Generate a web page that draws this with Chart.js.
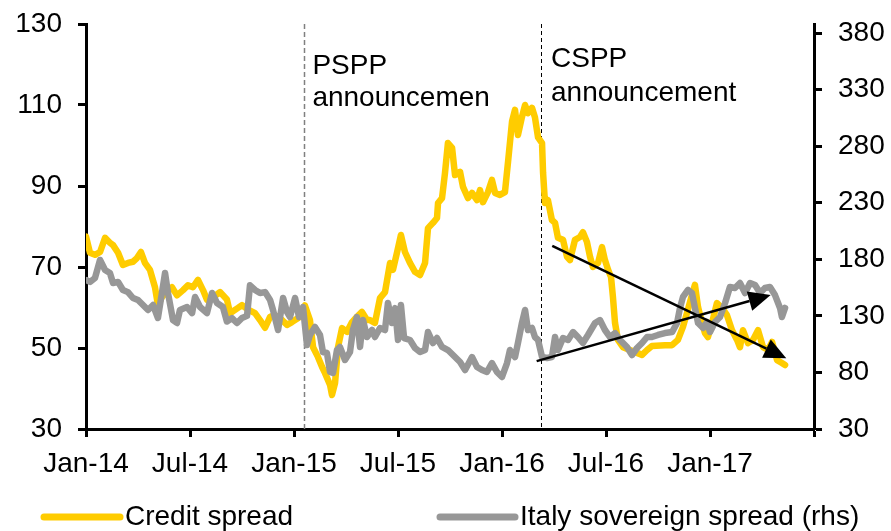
<!DOCTYPE html>
<html>
<head>
<meta charset="utf-8">
<title>Credit spread vs Italy sovereign spread</title>
<script src="https://cdn.jsdelivr.net/npm/chart.js@4/dist/chart.umd.min.js"></script>
<style>
  body{margin:0;background:#fff;}
  canvas{display:block;}
</style>
</head>
<body>
<canvas id="chart" width="891" height="531"></canvas>
<script>
// x values are months since Jan-2014
const xTickLabels = ['Jan-14','Jul-14','Jan-15','Jul-15','Jan-16','Jul-16','Jan-17',''];
const leftTicks = [30,50,70,90,110,130];
const rightTicks = [30,80,130,180,230,280,330,380];

const creditMonths = [0,0.23,0.52,0.81,1.1,1.38,1.56,1.85,2.13,2.42,2.71,2.94,3.17,3.4,3.69,3.98,4.15,4.38,4.96,5.25,5.6,5.88,6.17,6.46,6.75,6.98,7.27,7.73,8.13,8.31,8.77,9,9.35,9.75,10.04,10.33,10.62,10.9,11.31,11.6,11.88,12.35,12.63,12.92,13.1,13.38,13.62,13.79,14.08,14.19,14.37,14.54,14.77,15.06,15.35,15.63,15.92,16.21,16.38,16.67,16.96,17.25,17.54,17.71,17.94,18.17,18.4,18.69,18.98,19.27,19.56,19.73,20.02,20.25,20.31,20.54,20.71,20.88,21.12,21.29,21.58,21.75,22.04,22.27,22.56,22.73,22.9,23.19,23.42,23.6,23.88,24.17,24.35,24.58,24.75,24.92,25.15,25.33,25.5,25.73,25.9,26.08,26.31,26.37,26.48,26.65,26.88,27.06,27.23,27.52,27.75,27.92,28.21,28.5,28.67,28.9,29.08,29.25,29.54,29.77,29.94,30.12,30.29,30.4,30.52,30.69,30.98,31.38,31.79,32.08,32.37,32.65,33.4,33.81,34.15,34.44,34.67,34.96,35.13,35.31,35.54,35.71,35.88,36.12,36.4,36.69,36.98,37.27,37.56,37.73,37.9,38.19,38.48,38.77,39.06,39.35,39.58,39.87,40.15,40.33];
const creditValues = [77.5,73.5,73,73.7,77.2,76,75.4,73.5,70.5,71,71.3,72.2,73.7,71,69.3,65,60.6,62.6,65,63,64.3,65.5,65,66.8,64.3,61.9,62.3,63.8,62,58.6,59.9,60.6,59.5,58.6,56.9,55,57.7,58.1,56.9,55.7,56.4,57.7,60.5,56.9,50.2,47.8,45.3,43.8,40.9,38.4,41.4,50.2,54.9,54,56.4,57.7,58.9,56.9,56.9,56.2,62.3,63.8,71,69.3,73.5,77.9,73.7,71,68.8,68,71,79.6,80.9,82.1,85.8,87,93.2,100.6,99.4,92.7,93.5,89.8,87,88.3,86.5,89,86,88.5,91.5,88.3,87.8,88.5,96,106,108.8,102.6,107,110,108,109.3,107,102,100.6,93.2,85.8,86.5,81.6,80.9,77.2,76.7,72.5,71.7,76.7,77.4,78.6,76.2,72.5,70,71,74.9,71.7,69.3,67.5,62.6,56.2,52,50.2,49.5,48.8,48.3,49.5,50.5,50.7,50.7,52,55.2,58.6,63.1,65.6,60.1,56.2,53.7,52.7,56.2,61.1,59.9,58.1,54.4,52,50.2,54.4,51.2,52,54.4,50.2,49.5,51.5,47,46.3,45.8];

const sovMonths = [0,0.23,0.52,0.81,1.1,1.38,1.56,1.85,2.13,2.42,2.71,3,3.29,3.58,3.87,4.15,4.38,4.56,4.73,5.02,5.25,5.42,5.83,6.12,6.29,6.58,6.98,7.27,7.56,7.9,8.13,8.42,8.71,9,9.29,9.46,9.75,10.04,10.33,10.62,10.79,11.08,11.37,11.6,11.77,12.06,12.29,12.52,12.75,12.92,13.21,13.5,13.67,13.9,14.08,14.25,14.48,14.65,14.94,15.23,15.4,15.63,15.81,15.98,16.21,16.5,16.67,16.96,17.25,17.42,17.65,17.83,18,18.17,18.35,18.69,18.98,19.27,19.56,19.73,20.02,20.25,20.54,20.88,21.29,21.58,21.87,22.27,22.56,22.85,23.13,23.42,23.71,24,24.29,24.46,24.75,24.92,25.15,25.33,25.5,25.73,25.9,26.08,26.31,26.6,26.88,27.06,27.23,27.52,27.81,28.1,28.38,28.67,28.96,29.37,29.65,29.94,30.23,30.52,30.81,31.21,31.5,31.79,32.08,32.37,32.65,33,33.4,33.81,34.1,34.27,34.44,34.73,34.96,35.13,35.31,35.6,35.83,36,36.29,36.58,36.87,37.15,37.44,37.73,38.02,38.31,38.6,38.89,39.17,39.46,39.75,40.04,40.15,40.33];
const sovValues = [161.7,160,163.5,179.4,170.5,167.9,159,160,152.9,151,145.8,144,139.6,135.2,139.6,128.1,150.2,167.9,150.2,126.3,123.7,135.2,137.8,132.5,146.7,137.8,132.5,150.2,141.4,137.8,125,128,123.7,128.1,130,157,152.9,150.2,151,144,135.2,117.5,145.8,133.4,129,145.8,129,137.8,104.2,113.1,120.2,113.1,98,97.2,80.4,79.5,99.8,102.5,91,98,117.5,129,102.5,126.3,111.3,117.5,111.3,119.3,117.5,141.4,123.7,136.9,108.7,139.6,110.4,108.7,101.6,98,99.8,115.7,106,110.4,102.5,99.8,93.6,89.2,82.1,93.6,84.8,82.1,80.4,88.3,80.4,76,88.3,99.8,93.6,106,123.7,135.2,117.5,119.3,111.3,108.7,93.6,92.8,93.6,111.3,99.8,110.4,108.7,115.7,111.3,106,113.1,123.7,126.3,117.5,111.3,114.8,108.7,102.5,95.4,101.6,106,111.3,111.3,113.1,114.8,115.7,123.7,137,146.7,152.9,150.2,137,123.7,119.3,124.6,115.7,124.6,129,141.4,155.5,154.6,159,150.2,159,157.3,150.2,154.6,155.5,148.4,137,129,137];

// event lines (month) and their labels
const eventMonths = [12.6, 26.25];
const eventLabels = [['PSPP','announcemen'], ['CSPP','announcement']];

// trend arrows: [x0, y0, x1, y1, axis]
const arrows = [
  [26.9, 75.2, 40.4, 47.5, 'y'],
  [26.0, 90.0, 39.5, 148.4, 'y1']
];

const FONT = "'Liberation Sans', Arial, sans-serif";
const YELLOW = '#FFCC00';
const GREY = '#979797';

function toPoints(xs, ys){ return xs.map((x,i)=>({x, y:ys[i]})); }

function drawArrow(ctx, x0, y0, x1, y1){
  const ang = Math.atan2(y1-y0, x1-x0);
  const len = 22, half = 10;
  const bx = x1 - len*Math.cos(ang), by = y1 - len*Math.sin(ang);
  ctx.beginPath();
  ctx.moveTo(x0, y0); ctx.lineTo(bx, by);
  ctx.stroke();
  ctx.beginPath();
  ctx.moveTo(x1, y1);
  ctx.lineTo(bx + half*Math.sin(ang), by - half*Math.cos(ang));
  ctx.lineTo(bx - half*Math.sin(ang), by + half*Math.cos(ang));
  ctx.closePath();
  ctx.fill();
}

const extras = {
  id: 'extras',
  beforeDatasetsDraw(chart){
    const {ctx, chartArea, scales} = chart;
    ctx.save();
    eventMonths.forEach((m,i)=>{
      const x = Math.round(scales.x.getPixelForValue(m)) + 0.5;
      ctx.strokeStyle = i === 0 ? '#808080' : '#000';
      ctx.lineWidth = i === 0 ? 1.5 : 1;
      ctx.setLineDash(i === 0 ? [5,3] : [4,3]);
      ctx.beginPath();
      ctx.moveTo(x, chartArea.top); ctx.lineTo(x, chartArea.bottom);
      ctx.stroke();
    });
    ctx.restore();
  },
  afterDatasetsDraw(chart){
    const {ctx, chartArea, scales} = chart;
    ctx.save();
    // event labels
    ctx.fillStyle = '#000';
    ctx.font = '28px ' + FONT;
    ctx.textAlign = 'left';
    ctx.textBaseline = 'alphabetic';
    const offs = [[8, 50, 82], [10, 43, 77]];
    eventMonths.forEach((m,i)=>{
      const x = scales.x.getPixelForValue(m) + offs[i][0];
      ctx.fillText(eventLabels[i][0], x, chartArea.top + offs[i][1]);
      ctx.fillText(eventLabels[i][1], x, chartArea.top + offs[i][2]);
    });
    // arrows
    ctx.strokeStyle = '#000';
    ctx.fillStyle = '#000';
    ctx.lineWidth = 2.5;
    arrows.forEach(a=>{
      const ys = scales[a[4]];
      drawArrow(ctx, scales.x.getPixelForValue(a[0]), ys.getPixelForValue(a[1]),
                     scales.x.getPixelForValue(a[2]), ys.getPixelForValue(a[3]));
    });
    ctx.restore();
  },
  afterDraw(chart){
    // legend
    const {ctx} = chart;
    const items = [[44, 120, 125], [440, 515, 520]];
    ctx.save();
    ctx.font = '28px ' + FONT;
    ctx.textBaseline = 'middle';
    ctx.lineCap = 'round';
    chart.data.datasets.forEach((ds,i)=>{
      const [x0, x1, tx] = items[i];
      ctx.strokeStyle = ds.borderColor;
      ctx.lineWidth = 7;
      ctx.beginPath(); ctx.moveTo(x0, 517); ctx.lineTo(x1, 517); ctx.stroke();
      ctx.fillStyle = '#000';
      ctx.fillText(ds.label, tx, 517);
    });
    ctx.restore();
  }
};

const axisCommon = {
  border: {display: true, color: '#000', width: 3},
  grid: {drawOnChartArea: false, drawTicks: true, tickLength: 8, tickColor: '#000', tickWidth: 3}
};

// fixed axis sizes, no extra label padding around the plot
function fixY(w){ return s => { s.width = w; s.paddingTop = 0; s.paddingBottom = 0; }; }

new Chart(document.getElementById('chart'), {
  type: 'line',
  data: {
    datasets: [
      {label: 'Credit spread', data: toPoints(creditMonths, creditValues), borderColor: YELLOW, borderWidth: 6.5,
       pointRadius: 0, yAxisID: 'y', order: 1, borderJoinStyle: 'round', borderCapStyle: 'round', tension: 0},
      {label: 'Italy sovereign spread (rhs)', data: toPoints(sovMonths, sovValues), borderColor: GREY, borderWidth: 6.5,
       pointRadius: 0, yAxisID: 'y1', order: 0, borderJoinStyle: 'round', borderCapStyle: 'round', tension: 0}
    ]
  },
  options: {
    responsive: false,
    animation: false,
    devicePixelRatio: 1,
    layout: {padding: {top: 24, left: 0, right: 0, bottom: 0}},
    plugins: {legend: {display: false}, tooltip: {enabled: false}},
    scales: {
      x: {
        ...axisCommon,
        type: 'linear', min: 0, max: 42,
        afterBuildTicks: s => { s.ticks = xTickLabels.map((_,i)=>({value: i*6})); },
        afterFit: s => { s.height = 102; s.paddingLeft = 0; s.paddingRight = 0; },
        ticks: {color: '#000', font: {family: FONT, size: 28}, padding: 10, maxRotation: 0, autoSkip: false,
                callback: (v,i) => xTickLabels[i]}
      },
      y: {
        ...axisCommon,
        position: 'left', min: 30, max: 130,
        afterBuildTicks: s => { s.ticks = leftTicks.map(v=>({value: v})); },
        afterFit: fixY(86),
        ticks: {color: '#000', font: {family: FONT, size: 28}, padding: 16}
      },
      y1: {
        ...axisCommon,
        position: 'right', min: 30, max: 388,
        afterBuildTicks: s => { s.ticks = rightTicks.map(v=>({value: v})); },
        afterFit: fixY(77),
        ticks: {color: '#000', font: {family: FONT, size: 28}, padding: 16}
      }
    }
  },
  plugins: [extras]
});
</script>
</body>
</html>
